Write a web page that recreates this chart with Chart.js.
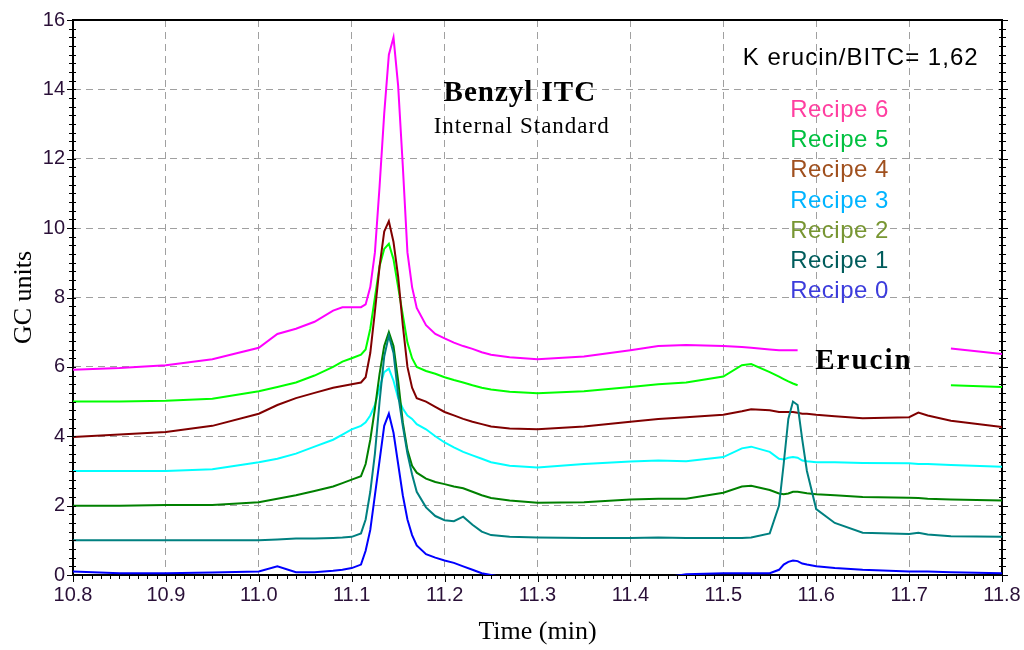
<!DOCTYPE html>
<html><head><meta charset="utf-8">
<script src="https://cdn.jsdelivr.net/npm/chart.js@4.4.1/dist/chart.umd.min.js"></script>
<style>html,body{margin:0;padding:0;background:#fff;}#wrap{width:1024px;height:650px;}</style>
</head><body><div id="wrap"><canvas id="c" width="1024" height="650"></canvas></div>
<script>
// ---- data ----
const time = [10.80,10.85,10.90,10.95,11.00,11.02,11.04,11.06,11.08,11.09,11.10,11.11,11.115,11.12,11.125,11.13,11.135,11.14,11.145,11.15,11.155,11.16,11.165,11.17,11.18,11.19,11.20,11.21,11.22,11.23,11.24,11.25,11.27,11.30,11.35,11.40,11.43,11.46,11.50,11.52,11.53,11.55,11.56,11.565,11.57,11.575,11.58,11.585,11.59,11.60,11.62,11.65,11.70,11.71,11.72,11.745,11.80];
const recipe0 = [0.1,0.05,0.05,0.07,0.1,0.25,0.08,0.08,0.12,0.15,0.2,0.3,0.7,1.3,2.3,3.3,4.3,4.65,4.1,3.2,2.3,1.6,1.15,0.85,0.6,0.5,0.42,0.35,0.25,0.15,0.05,0.0,-0.1,-0.1,-0.1,-0.1,-0.1,0.02,0.05,0.05,0.05,0.05,0.15,0.3,0.38,0.42,0.4,0.33,0.3,0.25,0.2,0.15,0.1,0.1,0.1,0.08,0.05];
const recipe1 = [1.0,1.0,1.0,1.0,1.0,1.02,1.05,1.05,1.07,1.08,1.1,1.2,1.6,2.4,3.5,5.0,6.3,6.9,6.4,5.2,4.3,3.5,2.9,2.4,1.95,1.7,1.58,1.55,1.68,1.45,1.25,1.15,1.1,1.08,1.07,1.07,1.08,1.07,1.07,1.07,1.08,1.2,2.0,3.2,4.5,5.0,4.9,3.9,3.0,1.9,1.5,1.22,1.18,1.22,1.17,1.12,1.1];
const recipe2 = [2.0,2.0,2.02,2.02,2.1,2.2,2.3,2.42,2.55,2.65,2.75,2.85,3.2,3.9,4.8,5.8,6.6,7.0,6.6,5.6,4.4,3.6,3.15,2.95,2.78,2.68,2.62,2.55,2.5,2.4,2.3,2.22,2.15,2.08,2.1,2.18,2.2,2.2,2.37,2.55,2.57,2.45,2.35,2.33,2.35,2.4,2.4,2.38,2.36,2.33,2.3,2.25,2.23,2.22,2.2,2.18,2.15];
const recipe3 = [3.0,3.0,3.0,3.05,3.25,3.35,3.5,3.7,3.9,4.05,4.2,4.3,4.4,4.6,4.9,5.4,5.85,5.95,5.6,5.1,4.8,4.6,4.5,4.35,4.2,4.0,3.82,3.68,3.55,3.45,3.35,3.25,3.15,3.1,3.2,3.27,3.3,3.28,3.4,3.65,3.7,3.55,3.35,3.33,3.38,3.4,3.38,3.3,3.28,3.25,3.25,3.23,3.22,3.2,3.2,3.17,3.12];
const recipe4 = [3.98,4.05,4.12,4.3,4.65,4.9,5.1,5.25,5.4,5.45,5.5,5.55,5.7,6.4,7.6,8.9,9.9,10.2,9.6,8.6,7.2,6.0,5.4,5.1,5.0,4.85,4.7,4.6,4.5,4.42,4.35,4.28,4.22,4.2,4.28,4.42,4.5,4.55,4.62,4.72,4.78,4.75,4.7,4.7,4.7,4.7,4.68,4.65,4.65,4.62,4.58,4.52,4.55,4.68,4.6,4.45,4.27];
const recipe5 = [5.0,5.0,5.02,5.08,5.3,5.42,5.55,5.75,6.0,6.15,6.25,6.35,6.5,7.1,8.0,8.9,9.4,9.55,9.1,8.3,7.5,6.7,6.25,6.0,5.88,5.8,5.7,5.62,5.55,5.47,5.4,5.35,5.28,5.24,5.3,5.42,5.5,5.55,5.72,6.05,6.08,5.85,5.72,5.65,5.58,5.52,5.47,null,null,null,null,null,null,null,null,5.47,5.42];
const recipe6 = [5.92,5.97,6.05,6.22,6.55,6.95,7.1,7.3,7.62,7.72,7.72,7.72,7.8,8.3,9.3,11.2,13.3,15.0,15.5,14.1,11.8,9.3,8.3,7.7,7.2,6.95,6.82,6.7,6.6,6.52,6.42,6.35,6.28,6.22,6.3,6.48,6.6,6.63,6.6,6.57,6.55,6.5,6.48,6.48,6.48,6.48,6.48,null,null,null,null,null,null,null,null,6.53,6.37];
const seriesNames = ['Recipe 0','Recipe 1','Recipe 2','Recipe 3','Recipe 4','Recipe 5','Recipe 6'];
const xMajorTicks = [10.8,10.9,11.0,11.1,11.2,11.3,11.4,11.5,11.6,11.7,11.8];
const yMajorTicks = [0,2,4,6,8,10,12,14,16];
const xMinorStep = 0.01;
const yMinorStep = 0.25;

// ---- styles ----
const seriesValues = [recipe0,recipe1,recipe2,recipe3,recipe4,recipe5,recipe6];
const lineColors = ['#0000ff','#008080','#008000','#00ffff','#800000','#00ff00','#ff00ff'];
const legendColors = ['#3c3cdc','#005c5c','#789632','#00b4ff','#a0501e','#00c040','#ff3fa0'];
const tickColor = '#2a1038';
const gridColor = '#a0a0a0';

const near = (a,b) => Math.abs(a-b) < 1e-6;
const isMajorX = v => xMajorTicks.some(t => near(t,v));
const isMajorY = v => yMajorTicks.some(t => near(t,v));

const datasets = seriesValues.map((vals,i) => ({
  label: seriesNames[i],
  data: vals.map((v,j) => ({x: time[j], y: v})),
  borderColor: lineColors[i],
  borderWidth: 2,
  pointRadius: 0,
  tension: 0,
  spanGaps: false,
  fill: false,
  xAxisID: 'x', yAxisID: 'y'
}));

const textPlugin = {
  id: 'texts',
  afterDatasetsDraw(chart) {
    const {ctx, scales} = chart;
    const x = scales.x, y = scales.y;
    ctx.save();
    function put(txt, t, v, font, color, align, spacing) {
      ctx.font = font; ctx.fillStyle = color; ctx.textAlign = align; ctx.textBaseline = 'alphabetic';
      try { ctx.letterSpacing = spacing || '0px'; } catch(e) {}
      ctx.fillText(txt, x.getPixelForValue(t), y.getPixelForValue(v));
    }
    put('Benzyl ITC', 11.281, 13.66, 'bold 29px "Liberation Serif"', '#000', 'center', '1px');
    put('Internal Standard', 11.283, 12.74, '23px "Liberation Serif"', '#000', 'center', '1px');
    put('Erucin', 11.599, 5.94, 'bold 29px "Liberation Serif"', '#000', 'left', '2px');
    put('K erucin/BITC= 1,62', 11.521, 14.70, '24px "Liberation Sans"', '#000', 'left', '1px');
    for (let i = 6; i >= 0; i--) {
      put(seriesNames[i], 11.572, 13.20 - (6 - i) * 0.87, '24px "Liberation Sans"', legendColors[i], 'left', '0.5px');
    }
    ctx.restore();
  }
};

const axisTicksPlugin = {
  id: 'axisTicks',
  afterDraw(chart) {
    const {ctx, chartArea: a, scales} = chart;
    const x = scales.x, y = scales.y;
    ctx.save();
    ctx.strokeStyle = '#000';
    ctx.lineWidth = 1;
    ctx.beginPath();
    const nx = Math.round((x.max - x.min) / xMinorStep);
    for (let k = 0; k <= nx; k++) {
      const v = x.min + k * xMinorStep;
      const px = Math.round(x.getPixelForValue(v)) + 0.5;
      const len = isMajorX(+v.toFixed(4)) ? 7 : 4;
      ctx.moveTo(px, a.bottom); ctx.lineTo(px, a.bottom + len);
    }
    const ny = Math.round((y.max - y.min) / yMinorStep);
    for (let k = 0; k <= ny; k++) {
      const v = y.min + k * yMinorStep;
      const py = Math.round(y.getPixelForValue(v)) + 0.5;
      const len = isMajorY(v) ? 6 : 4;
      ctx.moveTo(a.left - len, py); ctx.lineTo(a.left + 3, py);
      ctx.moveTo(a.right - 3, py); ctx.lineTo(a.right + len, py);
    }
    ctx.stroke();
    ctx.restore();
  }
};

new Chart(document.getElementById('c'), {
  type: 'line',
  data: { datasets },
  plugins: [textPlugin, axisTicksPlugin],
  options: {
    responsive: false,
    animation: false,
    devicePixelRatio: 1,
    layout: { padding: 0 },
    plugins: { legend: { display: false }, tooltip: { enabled: false } },
    scales: {
      x: {
        type: 'linear', position: 'bottom', min: 10.8, max: 11.8,
        afterFit: s => { s.height = 75; },
        ticks: {
          stepSize: 0.1, autoSkip: false, maxRotation: 0, minRotation: 0, padding: 2,
          color: tickColor, font: { family: '"Liberation Sans"', size: 20 },
          callback: v => isMajorX(v) ? v.toFixed(1) : ''
        },
        grid: {
          color: c => (c.tick && !near(c.tick.value,10.8) && !near(c.tick.value,11.8)) ? gridColor : 'rgba(0,0,0,0)',
          lineWidth: 1, tickColor: 'rgba(0,0,0,0)', tickLength: 6
        },
        border: { color: '#000', width: 2, dash: [7,5] },
        title: { display: true, text: 'Time (min)', color: '#000', font: { family: '"Liberation Serif"', size: 26 }, padding: { top: 0, bottom: 2 } }
      },
      x2: {
        type: 'linear', position: 'top', min: 10.8, max: 11.8,
        afterFit: s => { s.height = 20; },
        ticks: { display: false },
        grid: { display: false, drawTicks: false },
        border: { color: '#000', width: 2 }
      },
      y: {
        type: 'linear', position: 'left', min: 0, max: 16,
        afterFit: s => { s.width = 73; },
        ticks: {
          stepSize: 2, autoSkip: false, padding: 2,
          color: tickColor, font: { family: '"Liberation Sans"', size: 20 },
          callback: v => isMajorY(v) ? String(v) : ''
        },
        grid: {
          color: c => (c.tick && c.tick.value > 0 && c.tick.value < 16) ? gridColor : 'rgba(0,0,0,0)',
          lineWidth: 1, tickColor: 'rgba(0,0,0,0)', tickLength: 6
        },
        border: { color: '#000', width: 2, dash: [7,5] },
        title: { display: true, text: 'GC units', color: '#000', font: { family: '"Liberation Serif"', size: 26 }, padding: { top: 9, bottom: 0 } }
      },
      y2: {
        type: 'linear', position: 'right', min: 0, max: 16,
        afterFit: s => { s.width = 22; },
        ticks: { display: false },
        grid: { display: false, drawTicks: false },
        border: { color: '#000', width: 2 }
      }
    }
  }
});
</script>
</body></html>
